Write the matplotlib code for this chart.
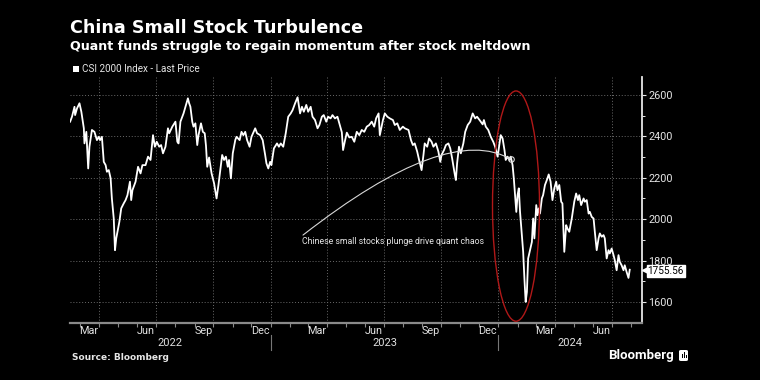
import numpy as np
import pandas as pd
import matplotlib
matplotlib.use("Agg")
import matplotlib.pyplot as plt
import matplotlib.dates as mdates
from matplotlib.patches import Ellipse, FancyBboxPatch, Rectangle
from matplotlib.transforms import blended_transform_factory

plt.rcParams['font.family'] = ['Roboto', 'DejaVu Sans']

title = "China Small Stock Turbulence"
subtitle = "Quant funds struggle to regain momentum after stock meltdown"
legend_label = "CSI 2000 Index - Last Price"
annotation_text = "Chinese small stocks plunge drive quant chaos"
source_text = "Source: Bloomberg"

start_date = "2022-01-01"
# days since start_date
days = [43,46,50,51,54,58,61,65,66,69,72,74,78,82,86,89,91,94,97,100,102,105,108,110,113,115,117,119,122,125,
        129,132,135,139,141,143,148,152,156,159,164,168,172,176,179,182,186,189,192,196,200,202,207,212,215,217,
        220,225,229,232,234,236,239,241,244,247,249,253,256,259,261,263,266,270,274,278,281,285,287,290,293,296,
        298,301,304,308,310,315,318,321,324,327,331,334,340,343,348,352,356,358,361,364,366,370,375,378,381,385,
        389,393,397,400,404,408,412,415,418,422,425,429,432,436,440,443,447,450,454,457,461,464,468,472,475,479,
        481,484,487,491,495,499,503,507,511,515,519,523,527,531,534,538,540,545,548,552,556,561,564,568,572,577,
        580,586,590,593,596,600,603,607,610,612,616,619,623,626,630,634,637,639,643,646,650,653,656,660,662,664,
        667,670,674,677,681,685,689,693,696,701,705,707,710,714,718,722,725,729,732,734,737,740,742,745,748,750,
        753,755,759,761,763,765,768,770,772,774,776,778,781,784,786,788,791,793,795,797,800,802,805,808,811,814,
        817,820,823,825,828,831,833,836,839,841,844,848,852,855,858,860,863,867,869,872,875,877,880,883,885,888,
        891,893,896,899,901,904,907,909,912,915,917,920,923,925,928,931,933,936,939,941]
values = [2471,2495,2543,2503,2535,2560,2519,2439,2366,2422,2245,2350,2431,2422,2382,2398,2382,2398,2277,2261,
          2229,2237,2197,2100,2003,1850,1907,1939,1987,2052,2076,2092,2116,2181,2092,2140,2181,2253,2221,2261,
          2261,2302,2286,2406,2350,2374,2350,2358,2318,2350,2439,2415,2447,2471,2374,2366,2471,2511,2552,2584,
          2560,2543,2471,2447,2463,2358,2406,2463,2422,2415,2355,2253,2298,2221,
          2173,2100,2165,2261,2310,2286,2302,2253,2286,2197,2318,2382,2398,2382,2422,2406,2422,2382,2350,2398,
          2439,2415,2406,2382,2310,2270,2245,2277,2261,2342,2366,2350,2366,2350,2415,2495,2511,2527,2560,2589,
          2511,2543,2519,2552,2519,2543,2495,2479,2439,2455,2495,2503,2471,2495,2487,2503,2487,2495,2463,2420,
          2334,2378,2418,
          2395,2398,2374,2422,2406,2431,2422,2447,2455,2471,2447,2487,2511,2406,2479,2511,2495,2487,2479,2455,
          2463,2431,2447,2439,2431,2382,2358,2366,2326,2286,2237,2310,2366,2350,2390,2374,2350,2366,2326,2277,
          2310,2334,2358,2366,2342,2294,2221,2189,2270,2350,2318,2366,2422,2455,2471,2511,2487,2495,2475,2458,
          2479,2447,2431,2398,2374,2350,2302,2366,2406,2390,2334,2286,2302,2286,2302,2261,2197,2035,2116,2149,
          2035,1923,1842,1713,1600,1648,1810,1850,1890,2003,1907,2068,2019,2052,2027,2100,2116,2165,2189,2216,
          2181,2092,2149,2181,2140,2165,2084,2076,1842,1971,1955,1939,2003,2084,2124,2092,2116,2068,2100,2084,
          2092,2027,2035,2011,2003,1939,1850,1907,1931,1915,1923,1907,1810,1850,1834,1858,1826,1802,1753,1826,
          1794,1777,1753,1777,1745,1716,1755.56]
last_value_label = "1755.56"

y_ticks = [1600, 1800, 2000, 2200, 2400, 2600]
month_labels = ["Mar", "Jun", "Sep", "Dec", "Mar", "Jun", "Sep", "Dec", "Mar", "Jun"]
month_label_dates = ["2022-03-15", "2022-06-15", "2022-09-15", "2022-12-15", "2023-03-15",
                     "2023-06-15", "2023-09-15", "2023-12-15", "2024-03-15", "2024-06-15"]
year_labels = ["2022", "2023", "2024"]
year_starts = ["2022-01-01", "2023-01-01", "2024-01-01", "2025-01-01"]

base = pd.Timestamp(start_date)
dates = base + pd.to_timedelta(days, unit="D")
x_min = base + pd.Timedelta(days=42.8)
x_max = base + pd.Timedelta(days=960.7)
y_min, y_max = 1498, 2687

BG = "black"
GRID = "#6a6a6a"
BOLD = ['DejaVu Sans']

fig = plt.figure(figsize=(7.6, 3.8), dpi=100, facecolor=BG)
ax = fig.add_axes([70/760, 57/380, 572/760, 246/380], facecolor=BG)

ax.plot(dates, values, color="white", lw=1.3, solid_joinstyle="round", zorder=3)

ax.set_xlim(x_min, x_max)
ax.set_ylim(y_min, y_max)

# grid
for yv in y_ticks:
    ax.axhline(yv, color=GRID, lw=0.7, ls=(0, (1, 2)), zorder=1)
quarter_starts = pd.date_range("2022-04-01", "2024-07-01", freq="QS")
for q in quarter_starts:
    ax.axvline(q, color=GRID, lw=0.7, ls=(0, (1, 2)), zorder=1)

# spines
for s in ["left", "top"]:
    ax.spines[s].set_visible(False)
ax.spines["right"].set_color("#e6e6e6")
ax.spines["right"].set_linewidth(1.3)
ax.spines["bottom"].set_color("#8a8a8a")
ax.spines["bottom"].set_linewidth(1.6)

# y axis on right
ax.yaxis.tick_right()
ax.set_yticks(y_ticks)
ax.set_yticks(np.arange(1600, 2700, 100), minor=True)
ax.tick_params(axis="y", which="major", direction="out", length=3, width=0.8, color="#e6e6e6",
               labelcolor="#e6e6e6", labelsize=7.8, pad=1.5)
ax.tick_params(axis="y", which="minor", direction="out", length=2, width=0.7, color="#e6e6e6")

# x axis: monthly ticks, labels custom
ax.xaxis.set_major_locator(mdates.MonthLocator())
ax.xaxis.set_major_formatter(plt.NullFormatter())
ax.tick_params(axis="x", which="major", direction="out", length=3, width=0.8, color="#8a8a8a")

trans = blended_transform_factory(ax.transData, ax.transAxes)
for lab, d in zip(month_labels, month_label_dates):
    ax.text(pd.Timestamp(d), -0.031, lab, transform=trans, ha="center", va="center",
            color="#e0e0e0", fontsize=7.8)
for i, lab in enumerate(year_labels):
    a = max(pd.Timestamp(year_starts[i]), x_min)
    b = min(pd.Timestamp(year_starts[i + 1]), x_max)
    mid = a + (b - a) / 2
    ax.text(mid, -0.080, lab, transform=trans, ha="center", va="center",
            color="#e0e0e0", fontsize=8)
for ys in year_starts[1:3]:
    ax.plot([pd.Timestamp(ys)] * 2, [-0.05, -0.108], transform=trans, color="#777777",
            lw=0.8, clip_on=False)

# red ellipse
ell_center = mdates.date2num(base + pd.Timedelta(days=758.5))
ax.add_patch(Ellipse((ell_center, 2063), width=75.4, height=1113, fill=False,
                     edgecolor="#b01818", lw=1.0, zorder=4))

# annotation curve
p_start = (base + pd.Timedelta(days=416.7), 1923)
p_end = (base + pd.Timedelta(days=750.2), 2290)
ax.annotate("", xy=p_end, xytext=p_start,
            arrowprops=dict(arrowstyle="-", color="#d8d8d8", lw=0.8, shrinkA=0, shrinkB=0,
                            connectionstyle="angle3,angleA=38,angleB=150"), zorder=4)
ax.plot([p_end[0]], [p_end[1]], marker="o", ms=4, mfc="none", mec="#d8d8d8", mew=0.8, zorder=5)
ax.text(base + pd.Timedelta(days=415), 1890, annotation_text, color="#e6e6e6",
        fontsize=6.35, ha="left", va="center", zorder=5)

# last value tag
tr2 = blended_transform_factory(ax.transAxes, ax.transData)
ax.plot([1.0045], [values[-1]], marker="<", ms=4.5, color="white", transform=tr2, clip_on=False, zorder=6)
ax.text(1.0095, values[-1] - 6, last_value_label, transform=tr2, ha="left", va="center",
        fontsize=7.2, color="black",
        bbox=dict(boxstyle="square,pad=0.08", fc="white", ec="white"), zorder=6)

# titles
fig.text(70/760, 1 - 28/380, title, color="white", fontsize=12.6, fontweight="bold",
         family=BOLD, ha="left", va="center")
fig.text(70/760, 1 - 46.5/380, subtitle, color="white", fontsize=9.1, fontweight="bold",
         family=BOLD, ha="left", va="center")
fig.patches.append(Rectangle((73/760, 1 - 72/380), 6/760, 6/380, transform=fig.transFigure,
                             facecolor="white", edgecolor="none"))
fig.text(82/760, 1 - 68.5/380, legend_label, color="#e6e6e6", fontsize=7.1, ha="left", va="center")

fig.text(72/760, 1 - 357.5/380, source_text, color="#e6e6e6", fontsize=6.5, fontweight="bold",
         family=BOLD, ha="left", va="center")
fig.text(674/760, 1 - 355/380, "Bloomberg", color="white", fontsize=9.5, fontweight="bold",
         ha="right", va="center")
fig.patches.append(FancyBboxPatch((679/760, 1 - 361/380), 9/760, 11/380,
                                  boxstyle="round,pad=0,rounding_size=0.003",
                                  transform=fig.transFigure, facecolor="white", edgecolor="none"))
for bx, bh in [(681.5, 4), (683.5, 6), (685.5, 3)]:
    fig.patches.append(Rectangle((bx/760, 1 - 358/380), 1/760, bh/380, transform=fig.transFigure,
                                 facecolor="black", edgecolor="none"))

fig.savefig("out.png", dpi=100, facecolor=BG)
